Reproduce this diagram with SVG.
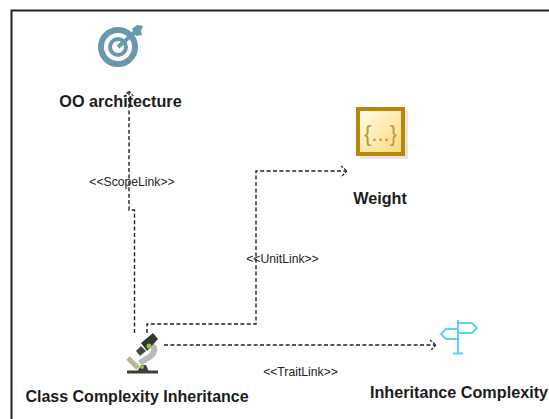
<svg xmlns="http://www.w3.org/2000/svg" width="549" height="419" viewBox="0 0 549 419">
<defs>
<style>
.name{font:bold 16.2px "Liberation Sans",Arial,sans-serif;fill:#1c1c1c;text-anchor:middle}
.lab{font:12.2px "Liberation Sans",Arial,sans-serif;fill:#222;text-anchor:middle}
.conn{fill:none;stroke:#222;stroke-width:1.4;stroke-dasharray:4 2.4}
.head{fill:none;stroke:#222;stroke-width:1.2;stroke-dasharray:2.5 1.5}
</style>
<linearGradient id="wg" x1="0" y1="0" x2="1" y2="1"><stop offset="0" stop-color="#fffdf0"/><stop offset="1" stop-color="#fdd873"/></linearGradient>
</defs>
<rect width="549" height="419" fill="#fff"/>
<path d="M11.500 419V10.500H549" fill="none" stroke="#222" stroke-width="2"/>
<g id="connectors">
<path class="conn" d="M134.500 333V210H129V91"/>
<path class="head" d="M124 97L129 91L134 97"/>
<path class="conn" d="M147 333V324H256V171H347"/>
<path class="head" d="M341 166L347 171L341 177"/>
<path class="conn" d="M164 345H436"/>
<path class="head" d="M430 340L436 345L430 351"/>
<text class="lab" x="132" y="186">&lt;&lt;ScopeLink&gt;&gt;</text>
<text class="lab" x="282.500" y="263">&lt;&lt;UnitLink&gt;&gt;</text>
<text class="lab" x="300.500" y="376">&lt;&lt;TraitLink&gt;&gt;</text>
</g>
<g id="oo-architecture">
<circle cx="118" cy="47" r="17" fill="none" stroke="#6a97ae" stroke-width="6"/>
<circle cx="118" cy="47" r="8" fill="none" stroke="#6a97ae" stroke-width="4"/>
<path d="M118 47L135 32" stroke="#6a97ae" stroke-width="4"/>
<path d="M132 29L137 25L143 26L141 31L142 35L136 36Z" fill="#6a97ae"/>
<text class="name" x="120.500" y="107">OO architecture</text>
</g>
<g id="weight">
<rect x="360" y="111" width="48" height="48" fill="#d4d4d4" opacity=".6"/>
<rect x="358" y="109" width="45" height="45" fill="url(#wg)" stroke="#b8860b" stroke-width="4"/>
<text x="380.500" y="141" font-family="Liberation Sans,Arial,sans-serif" font-size="22" fill="#b09a50" text-anchor="middle">{...}</text>
<text class="name" x="380" y="204">Weight</text>
</g>
<g id="class-complexity-inheritance">
<path d="M127 372H158" stroke="#3a3f3a" stroke-width="3"/>
<path d="M128 358L138 368" stroke="#b5b59a" stroke-width="5"/>
<path d="M140 363L151 356Q157 350 152 345" fill="none" stroke="#b9bcb9" stroke-width="6"/>
<path d="M137 372L141 365H146L149 372Z" fill="#3a3f3a"/>
<path d="M141 343L153 333L158 339L147 351Z" fill="#333a33"/>
<path d="M136 351L141 346L146 351L140 356Z" fill="#444"/>
<circle cx="149" cy="346" r="2.500" fill="#8cc63f"/>
<circle cx="142" cy="367" r="2" fill="#8cc63f"/>
<text class="name" x="137" y="402" style="font-size:16px">Class Complexity Inheritance</text>
</g>
<g id="inheritance-complexity">
<path d="M458 320V353M453 353.500H463" fill="none" stroke="#5fd0f5" stroke-width="2"/>
<path d="M458 323H472L477 328L472 333H458M458 329H446L441 334L446 339H458" fill="none" stroke="#5fd0f5" stroke-width="2"/>
<text class="name" x="459" y="398">Inheritance Complexity</text>
</g>
</svg>
